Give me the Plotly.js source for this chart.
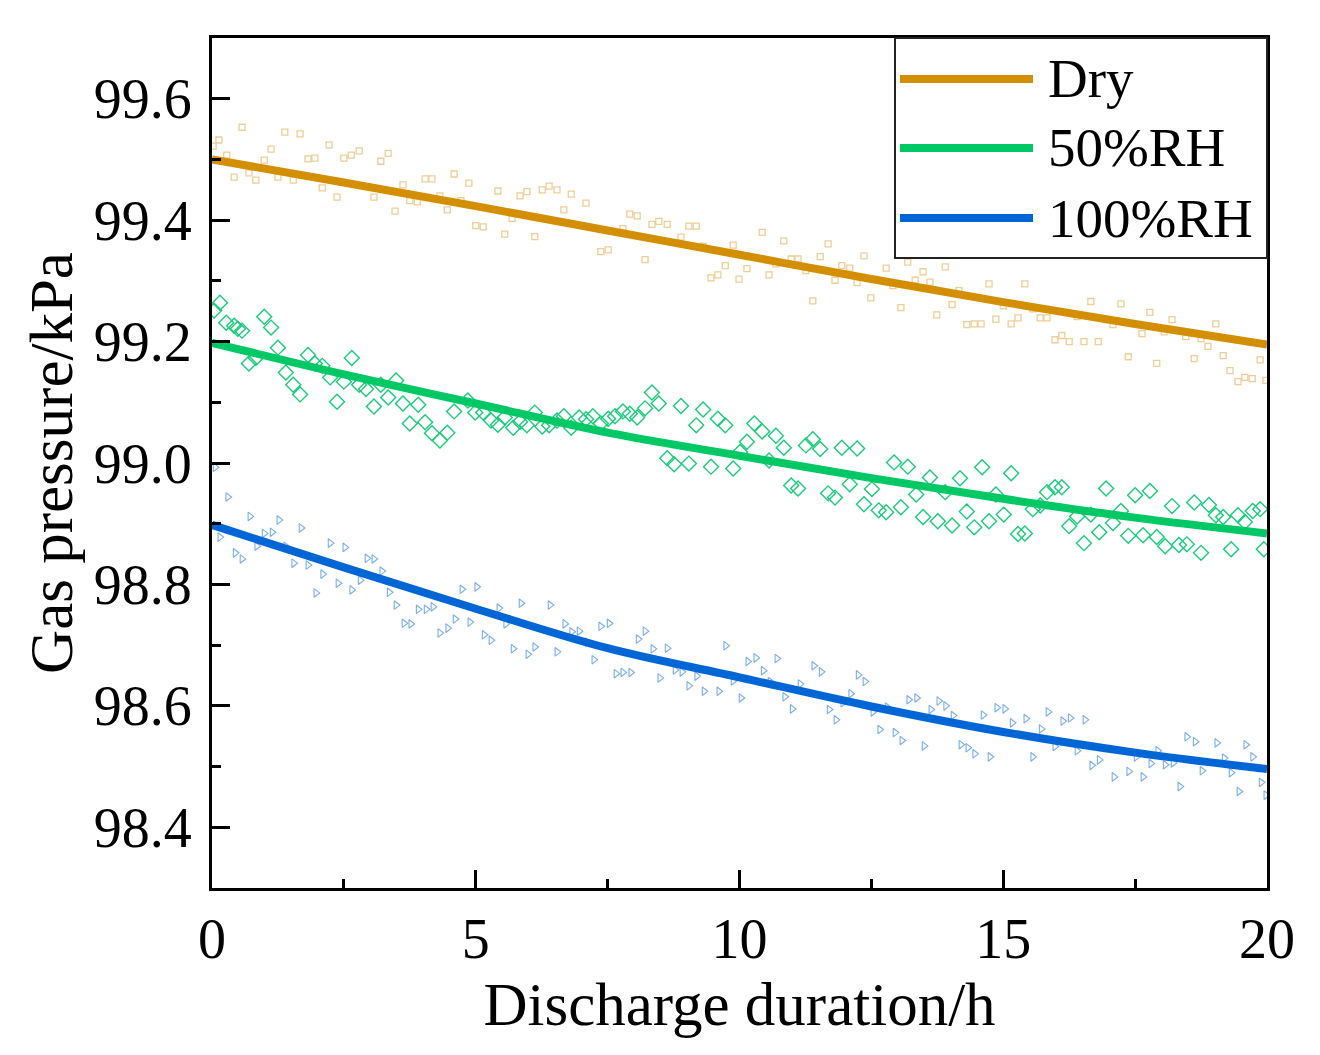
<!DOCTYPE html>
<html>
<head>
<meta charset="utf-8">
<script src="https://cdn.plot.ly/plotly-3.0.1.min.js"></script>
<style>html,body{margin:0;padding:0;background:#fff;}#chart{width:1320px;height:1055px;}</style>
</head>
<body>
<div id="chart"></div>
<script>
// ---- Data ----
// Dry: measured points
var dryT = [0.02,0.13,0.28,0.42,0.57,0.70,0.83,0.99,1.12,1.25,1.38,1.54,1.67,1.82,1.95,2.09,2.22,2.37,2.50,2.64,2.79,3.07,3.20,3.34,3.47,3.62,3.75,3.89,4.04,4.17,4.32,4.46,4.59,4.72,4.87,5.00,
  5.14,5.42,5.55,5.69,5.84,5.97,6.12,6.26,6.39,6.54,6.67,6.81,7.09,7.37,7.51,7.79,7.92,8.06,8.21,8.34,8.47,8.63,8.89,9.04,9.18,9.31,9.46,9.59,9.73,9.88,9.99,
  10.14,10.43,10.56,10.69,10.84,10.98,11.11,11.26,11.39,11.53,11.68,11.81,11.94,12.09,12.23,12.36,12.49,12.78,12.91,13.06,13.19,13.33,13.48,13.61,13.74,13.90,14.03,14.16,14.31,14.45,14.58,14.73,14.86,15.00,
  15.15,15.28,15.41,15.56,15.70,15.83,15.98,16.11,16.25,16.40,16.53,16.66,16.80,16.95,17.08,17.23,17.37,17.63,17.78,17.91,18.05,18.20,18.46,18.62,18.75,18.88,19.03,19.17,19.30,19.45,19.58,19.72,19.87,19.98];
var dryP = [99.522,99.532,99.507,99.471,99.553,99.478,99.466,99.499,99.517,99.471,99.545,99.466,99.542,99.501,99.502,99.453,99.524,99.438,99.502,99.507,99.514,99.438,99.497,99.510,99.415,99.458,99.432,99.430,99.468,99.468,99.440,99.417,99.476,99.432,99.461,99.391,
  99.389,99.448,99.377,99.403,99.440,99.447,99.373,99.450,99.456,99.450,99.417,99.443,99.428,99.348,99.351,99.386,99.410,99.407,99.335,99.393,99.398,99.393,99.372,99.390,99.390,99.357,99.305,99.310,99.325,99.359,99.303,
  99.320,99.380,99.310,99.328,99.366,99.336,99.336,99.317,99.267,99.340,99.361,99.301,99.325,99.321,99.297,99.341,99.272,99.321,99.292,99.256,99.331,99.301,99.315,99.298,99.244,99.323,99.261,99.284,99.228,99.229,99.229,99.295,99.237,99.259,
  99.229,99.239,99.295,99.254,99.239,99.239,99.203,99.210,99.200,99.241,99.200,99.266,99.200,99.236,99.228,99.262,99.175,99.213,99.248,99.164,99.216,99.236,99.208,99.172,99.205,99.192,99.229,99.177,99.152,99.134,99.141,99.139,99.170,99.136];

// 50%RH: measured points
var rh50T = [0.04,0.15,0.27,0.42,0.49,0.57,0.70,0.83,0.99,1.12,1.25,1.40,1.54,1.67,1.82,1.95,2.09,2.24,2.37,2.50,2.65,2.79,2.92,3.07,3.20,3.34,3.49,3.62,3.75,3.91,4.04,4.17,4.32,4.46,4.59,4.85,4.99,
  5.14,5.29,5.42,5.55,5.71,5.84,5.97,6.12,6.26,6.39,6.54,6.67,6.81,6.96,7.09,7.22,7.37,7.51,7.64,7.79,7.92,8.06,8.21,8.34,8.47,8.63,8.76,8.89,9.04,9.18,9.31,9.46,9.59,9.73,9.88,10.01,
  10.14,10.28,10.43,10.56,10.69,10.84,10.98,11.11,11.26,11.39,11.53,11.68,11.81,11.94,12.09,12.23,12.36,12.51,12.64,12.78,12.93,13.06,13.19,13.35,13.48,13.61,13.76,13.90,14.03,14.18,14.31,14.45,14.60,14.73,14.86,15.01,
  15.15,15.28,15.41,15.56,15.70,15.83,15.98,16.11,16.25,16.40,16.53,16.66,16.82,16.95,17.08,17.23,17.37,17.50,17.65,17.78,17.91,18.07,18.20,18.33,18.48,18.62,18.75,18.90,19.03,19.17,19.32,19.45,19.58,19.73,19.87,19.94];
var rh50P = [99.251,99.264,99.231,99.226,99.221,99.218,99.164,99.173,99.241,99.223,99.190,99.149,99.129,99.113,99.178,99.164,99.160,99.141,99.101,99.134,99.173,99.129,99.122,99.093,99.129,99.108,99.136,99.098,99.065,99.096,99.067,99.049,99.037,99.050,99.085,99.103,99.083,
  99.083,99.070,99.063,99.075,99.058,99.068,99.062,99.083,99.060,99.062,99.070,99.077,99.058,99.075,99.072,99.077,99.065,99.073,99.077,99.085,99.081,99.075,99.090,99.116,99.098,99.008,98.998,99.094,98.999,99.062,99.088,98.994,99.073,99.062,98.991,99.018,
  99.035,99.065,99.052,99.004,99.045,99.025,98.963,98.958,99.029,99.039,99.023,98.950,98.943,99.025,98.965,99.024,98.932,98.957,98.922,98.919,99.001,98.927,98.994,98.948,98.911,98.976,98.904,98.952,98.897,98.975,98.920,98.894,98.993,98.904,98.948,98.915,
  98.983,98.883,98.884,98.924,98.930,98.952,98.960,98.960,98.896,98.912,98.868,98.915,98.886,98.958,98.901,98.921,98.880,98.947,98.881,98.954,98.878,98.863,98.929,98.865,98.866,98.935,98.852,98.931,98.914,98.911,98.858,98.914,98.903,98.921,98.924,98.858];

// 100%RH: measured points
var rh100T = [0.06,0.15,0.30,0.44,0.57,0.72,0.85,0.99,1.14,1.27,1.40,1.55,1.69,1.82,1.97,2.10,2.24,2.39,2.52,2.65,2.81,2.94,3.07,3.22,3.36,3.49,3.64,3.77,3.91,4.06,4.19,4.32,4.47,4.61,4.74,4.89,5.02,
  5.16,5.29,5.44,5.57,5.71,5.86,5.99,6.12,6.41,6.54,6.69,6.82,6.96,7.11,7.24,7.37,7.53,7.66,7.79,7.94,8.08,8.21,8.36,8.49,8.63,8.78,8.91,9.04,9.19,9.33,9.61,9.74,9.88,10.03,
  10.16,10.31,10.45,10.58,10.71,10.86,11.00,11.15,11.41,11.55,11.70,11.83,11.96,12.11,12.25,12.38,12.53,12.66,12.80,12.95,13.08,13.21,13.36,13.50,13.63,13.78,13.91,14.05,14.20,14.33,14.46,14.62,14.75,14.88,15.03,
  15.17,15.43,15.56,15.72,15.85,15.98,16.13,16.27,16.40,16.55,16.68,16.82,17.10,17.38,17.52,17.65,17.80,17.93,18.07,18.22,18.35,18.48,18.64,18.77,19.05,19.19,19.32,19.47,19.60,19.73,19.89,19.98];
var rh100P = [98.993,98.878,98.944,98.852,98.842,98.912,98.863,98.884,98.886,98.906,98.863,98.835,98.893,98.832,98.786,98.817,98.868,98.802,98.861,98.791,98.807,98.843,98.842,98.822,98.787,98.766,98.736,98.735,98.759,98.759,98.763,98.720,98.728,98.743,98.792,98.738,98.796,
  98.717,98.708,98.761,98.735,98.694,98.769,98.685,98.697,98.766,98.689,98.735,98.722,98.723,98.705,98.676,98.731,98.736,98.653,98.655,98.655,98.710,98.723,98.694,98.646,98.695,98.659,98.656,98.633,98.649,98.624,98.624,98.699,98.641,98.613,
  98.673,98.679,98.658,98.640,98.678,98.615,98.595,98.636,98.666,98.656,98.594,98.577,98.605,98.620,98.651,98.640,98.590,98.561,98.598,98.556,98.543,98.610,98.613,98.534,98.594,98.608,98.600,98.584,98.536,98.531,98.521,98.585,98.516,98.597,98.595,
  98.572,98.579,98.516,98.562,98.590,98.533,98.575,98.580,98.526,98.577,98.502,98.511,98.483,98.492,98.516,98.483,98.505,98.526,98.503,98.506,98.467,98.549,98.541,98.493,98.539,98.514,98.490,98.459,98.536,98.516,98.474,98.453];

// Fitted curves, read at regular times
var fitT     = [0, 2.5, 5, 7.5, 10, 12.5, 15, 17.5, 20];
var dryFit   = [99.500, 99.462, 99.423, 99.383, 99.343, 99.303, 99.265, 99.229, 99.195];
var rh50Fit  = [99.198, 99.146, 99.098, 99.050, 99.012, 98.975, 98.941, 98.910, 98.884];
var rh100Fit = [98.898, 98.828, 98.760, 98.695, 98.647, 98.599, 98.557, 98.523, 98.496];

var seriesNames = ['Dry', '50%RH', '100%RH'];
var xTitle = 'Discharge duration/h';
var yTitle = 'Gas pressure/kPa';

// ---- Styles ----
var FONT = 'Liberation Serif, Times New Roman, serif';
var lineColors = ['#D38F00', '#00C864', '#0066D6'];
var markerColors = ['#F0CD95', '#19CC7A', '#78AEEC'];

var traces = [
  {x: dryT, y: dryP, type: 'scatter', mode: 'markers', showlegend: false, hoverinfo: 'skip',
   marker: {symbol: 'square-open', size: 6, color: markerColors[0], line: {width: 1.3, color: markerColors[0]}}},
  {x: rh50T, y: rh50P, type: 'scatter', mode: 'markers', showlegend: false, hoverinfo: 'skip',
   marker: {symbol: 'diamond-open', size: 11.5, color: markerColors[1], line: {width: 1.4, color: markerColors[1]}}},
  {x: rh100T, y: rh100P, type: 'scatter', mode: 'markers', showlegend: false, hoverinfo: 'skip',
   marker: {symbol: 'triangle-right-open', size: 7.5, color: markerColors[2], line: {width: 1.1, color: markerColors[2]}}},
  {x: fitT, y: dryFit, type: 'scatter', mode: 'lines', name: seriesNames[0], showlegend: false,
   line: {color: lineColors[0], width: 8, shape: 'spline'}},
  {x: fitT, y: rh50Fit, type: 'scatter', mode: 'lines', name: seriesNames[1], showlegend: false,
   line: {color: lineColors[1], width: 8, shape: 'spline'}},
  {x: fitT, y: rh100Fit, type: 'scatter', mode: 'lines', name: seriesNames[2], showlegend: false,
   line: {color: lineColors[2], width: 8, shape: 'spline'}}
];

// ---- Legend drawn as a boxed key (paper coordinates) ----
var legendBox = {x0: 0.6474, x1: 1.0, y0: 0.7412, y1: 1.0};
var legendRows = [0.9518, 0.8706, 0.7882];
var legendLineX = [0.6521, 0.7782];
var legendTextX = 0.7905;

var shapes = [{
  type: 'rect', xref: 'paper', yref: 'paper',
  x0: legendBox.x0, x1: legendBox.x1, y0: legendBox.y0, y1: legendBox.y1,
  fillcolor: '#fff', line: {color: '#222', width: 2}, layer: 'above'
}];
var annotations = [];
seriesNames.forEach(function (name, i) {
  shapes.push({
    type: 'line', xref: 'paper', yref: 'paper',
    x0: legendLineX[0], x1: legendLineX[1], y0: legendRows[i], y1: legendRows[i],
    line: {color: lineColors[i], width: 8}, layer: 'above'
  });
  annotations.push({
    xref: 'paper', yref: 'paper', x: legendTextX, y: legendRows[i],
    xanchor: 'left', yanchor: 'middle', showarrow: false, text: name,
    font: {family: FONT, size: 55, color: '#000'}
  });
});

var axisCommon = {
  showline: true, linewidth: 3, linecolor: '#000', mirror: true,
  ticks: 'inside', ticklen: 18, tickwidth: 3, tickcolor: '#000',
  showgrid: false, zeroline: false,
  tickfont: {family: FONT, size: 56, color: '#000'}
};

var layout = {
  width: 1320, height: 1055,
  margin: {l: 212, r: 53, t: 38, b: 167, pad: 0},
  paper_bgcolor: '#fff', plot_bgcolor: '#fff',
  font: {family: FONT, color: '#000'},
  xaxis: Object.assign({}, axisCommon, {
    range: [0, 20], tick0: 0, dtick: 5,
    minor: {dtick: 2.5, ticks: 'inside', ticklen: 9, tickwidth: 3, tickcolor: '#000'},
    title: {text: xTitle, font: {family: FONT, size: 61, color: '#000'}, standoff: 14}
  }),
  yaxis: Object.assign({}, axisCommon, {
    range: [98.3, 99.7], tick0: 98.4, dtick: 0.2, tickformat: '.1f',
    ticklabelstandoff: 6,
    minor: {dtick: 0.1, ticks: 'inside', ticklen: 9, tickwidth: 3, tickcolor: '#000'},
    title: {text: yTitle, font: {family: FONT, size: 61, color: '#000'}, standoff: 2}
  }),
  shapes: shapes,
  annotations: annotations,
  showlegend: false
};

Plotly.newPlot('chart', traces, layout, {displayModeBar: false, staticPlot: true});
</script>
</body>
</html>
